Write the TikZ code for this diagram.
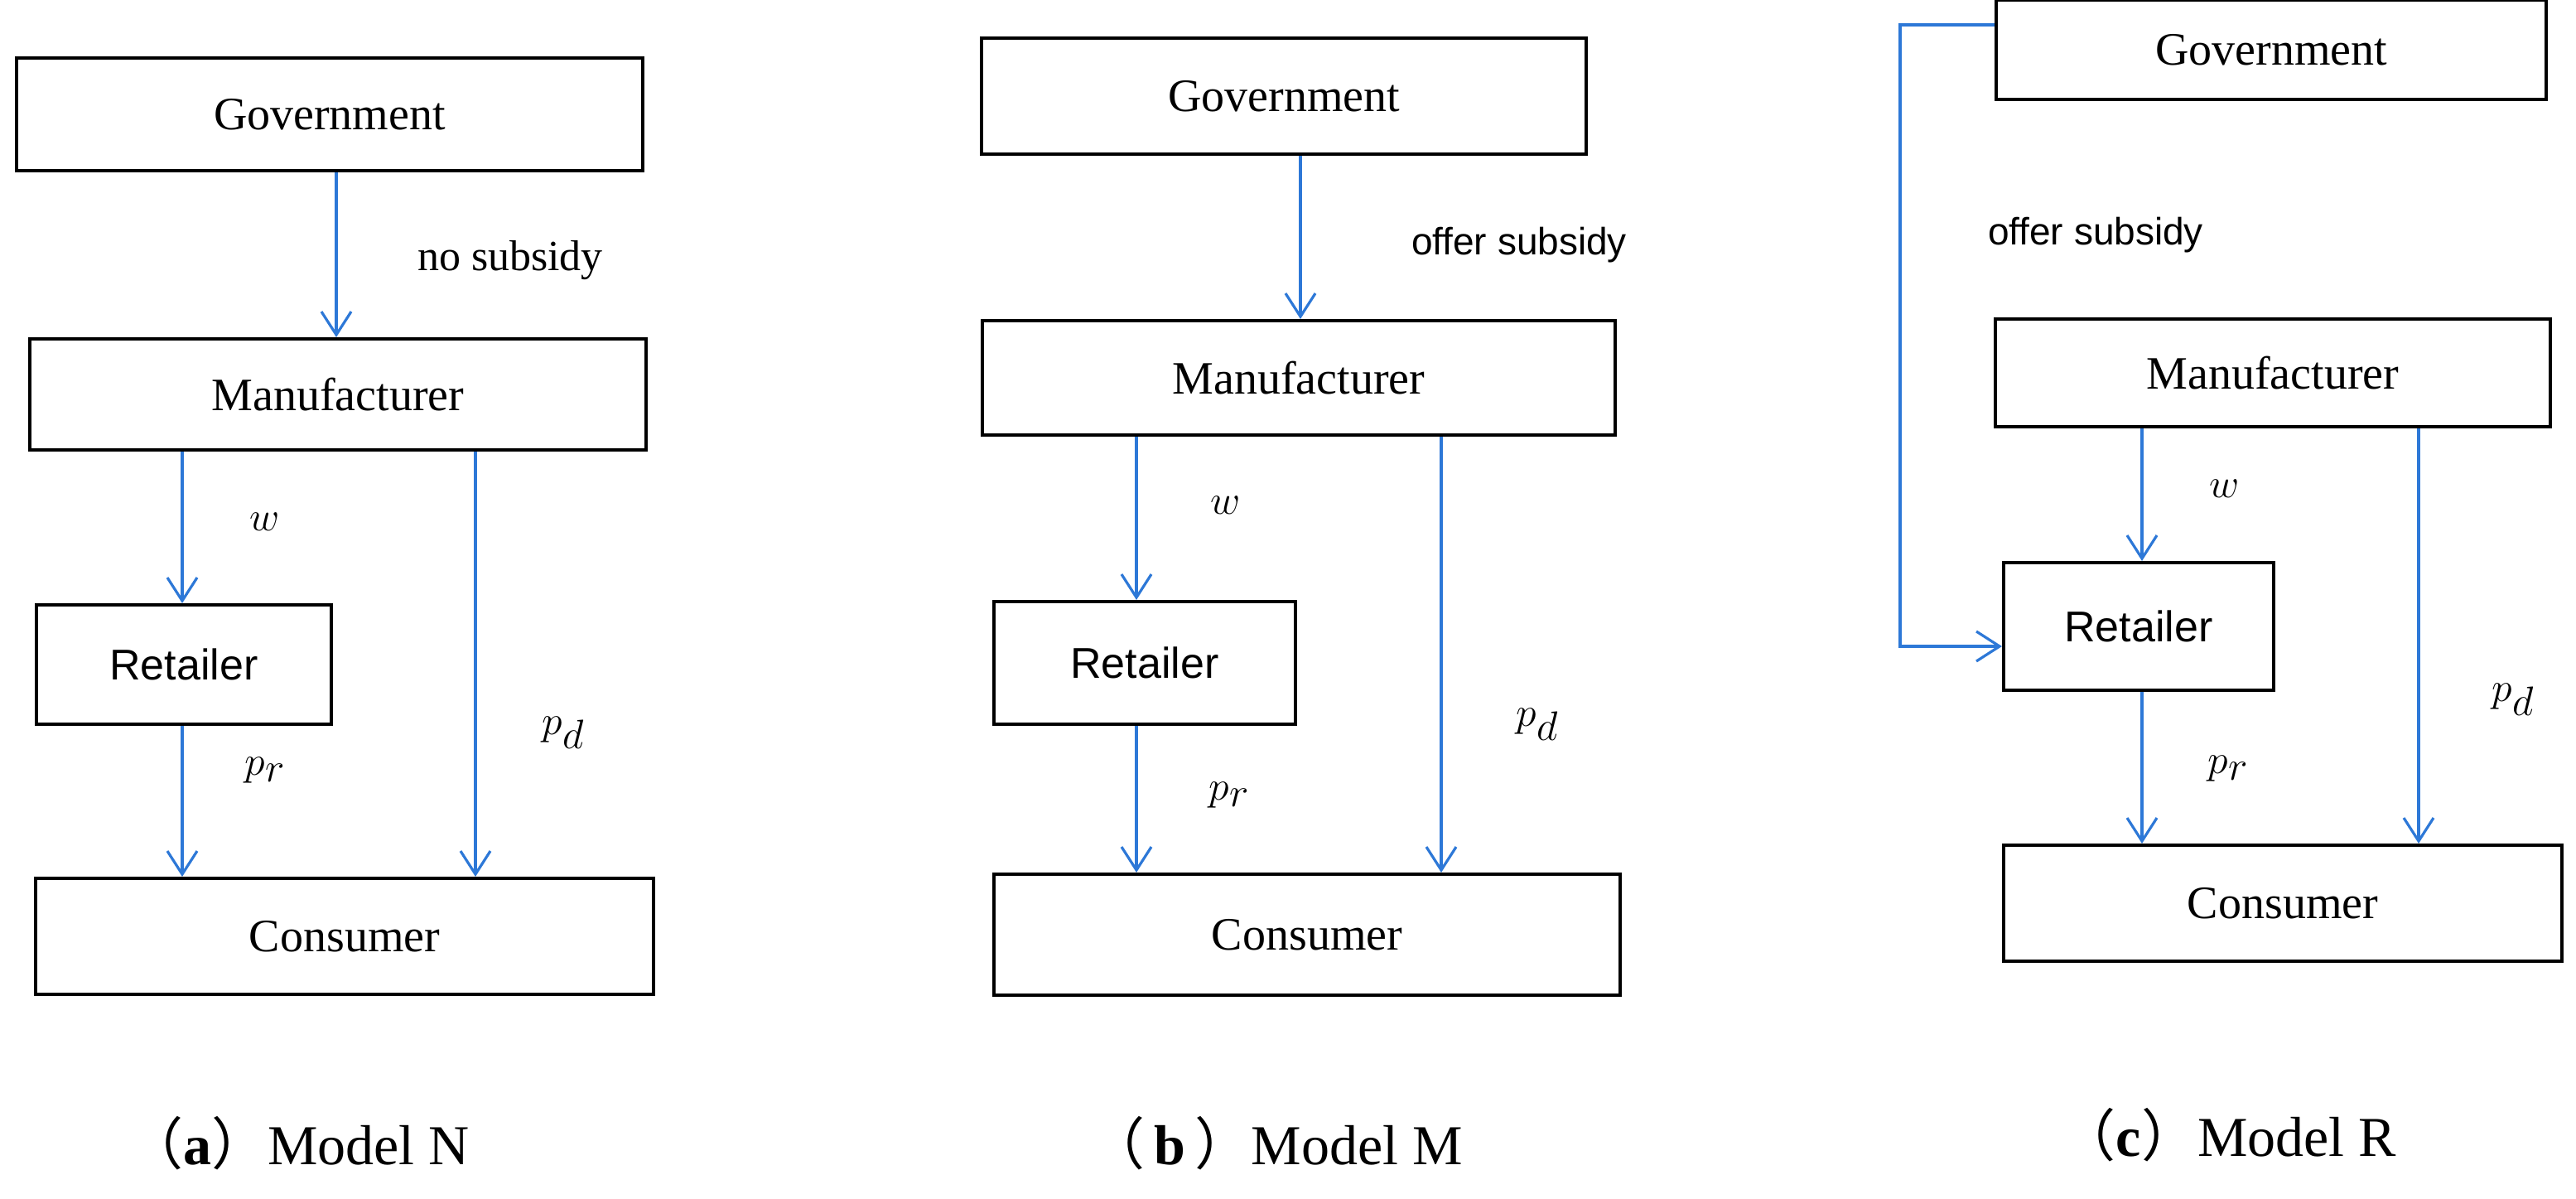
\documentclass[tikz,border=0pt]{standalone}
\usepackage{fontspec}
\setmainfont{Liberation Serif}
\newfontfamily\sansf{Liberation Sans}
\newfontfamily\cjk{Noto Sans CJK SC}
\usetikzlibrary{arrows.meta}
\definecolor{ab}{RGB}{45,120,215}
\begin{document}
\begin{tikzpicture}[x=1pt,y=-1pt,
  box/.style={draw,line width=2pt,rectangle,inner sep=0pt,font=\fontsize{28}{32}\selectfont},
  rbox/.style={box,font=\sansf\fontsize{26}{30}\selectfont},
  ar/.style={ab,line width=1.6pt,-{Straight Barb[length=14pt,width=18pt]}},
  lab/.style={font=\fontsize{26}{30}\selectfont},
  slab/.style={font=\sansf\fontsize{23}{27}\selectfont},
  mlab/.style={font=\fontsize{34}{38}\selectfont},
  captxt/.style={font=\fontsize{34}{38}\selectfont}]
\useasboundingbox (0,0) rectangle (1555,723);
% panel a
\node[box,minimum width=378,minimum height=68] (gA) at (199,69) {Government};
\node[box,minimum width=372,minimum height=67] (mA) at (204,238) {Manufacturer};
\node[rbox,minimum width=178,minimum height=72] (rA) at (111,401) {Retailer};
\node[box,minimum width=373,minimum height=70] (cA) at (208,565) {Consumer};
\draw[ar] (gA.south -| 203,0) -- (mA.north -| 203,0);
\draw[ar] (mA.south -| 110,0) -- (rA.north -| 110,0);
\draw[ar] (rA.south -| 110,0) -- (cA.north -| 110,0);
\draw[ar] (mA.south -| 287,0) -- (cA.north -| 287,0);
\node[lab] at (308,157) {no subsidy};
\node[mlab] at (160,315) {$w$};
\node[mlab] at (340,442) {$p_d$};
\node[mlab] at (160,465) {$p_r$};
\node[captxt] at (180,690) {{\cjk （}\textbf{a}{\cjk ）}Model N};
% panel b
\node[box,minimum width=365,minimum height=70] (gB) at (775,58) {Government};
\node[box,minimum width=382,minimum height=69] (mB) at (784,228) {Manufacturer};
\node[rbox,minimum width=182,minimum height=74] (rB) at (691,400) {Retailer};
\node[box,minimum width=378,minimum height=73] (cB) at (789,564) {Consumer};
\draw[ar] (gB.south -| 785,0) -- (mB.north -| 785,0);
\draw[ar] (mB.south -| 686,0) -- (rB.north -| 686,0);
\draw[ar] (rB.south -| 686,0) -- (cB.north -| 686,0);
\draw[ar] (mB.south -| 870,0) -- (cB.north -| 870,0);
\node[slab] at (917,148) {offer subsidy};
\node[mlab] at (740,305) {$w$};
\node[mlab] at (928,437) {$p_d$};
\node[mlab] at (742,480) {$p_r$};
\node[captxt] at (770,690) {{\cjk （}\,\textbf{b}\,{\cjk ）}Model M};
% panel c
\node[box,minimum width=332,minimum height=60] (gC) at (1371,30) {Government};
\node[box,minimum width=335,minimum height=65] (mC) at (1372,225) {Manufacturer};
\node[rbox,minimum width=163,minimum height=77] (rC) at (1291,378) {Retailer};
\node[box,minimum width=337,minimum height=70] (cC) at (1378,545) {Consumer};
\coordinate (k1) at (1147,15);
\coordinate (k2) at (1147,390);
\draw[ar] (gC.west |- k1) -- (k1) -- (k2) -- (rC.west |- k2);
\draw[ar] (mC.south -| 1293,0) -- (rC.north -| 1293,0);
\draw[ar] (rC.south -| 1293,0) -- (cC.north -| 1293,0);
\draw[ar] (mC.south -| 1460,0) -- (cC.north -| 1460,0);
\node[slab] at (1265,142) {offer subsidy};
\node[mlab] at (1343,295) {$w$};
\node[mlab] at (1517,422) {$p_d$};
\node[mlab] at (1345,464) {$p_r$};
\node[captxt] at (1345,685) {{\cjk （}\textbf{c}{\cjk ）}Model R};
\end{tikzpicture}
\end{document}
